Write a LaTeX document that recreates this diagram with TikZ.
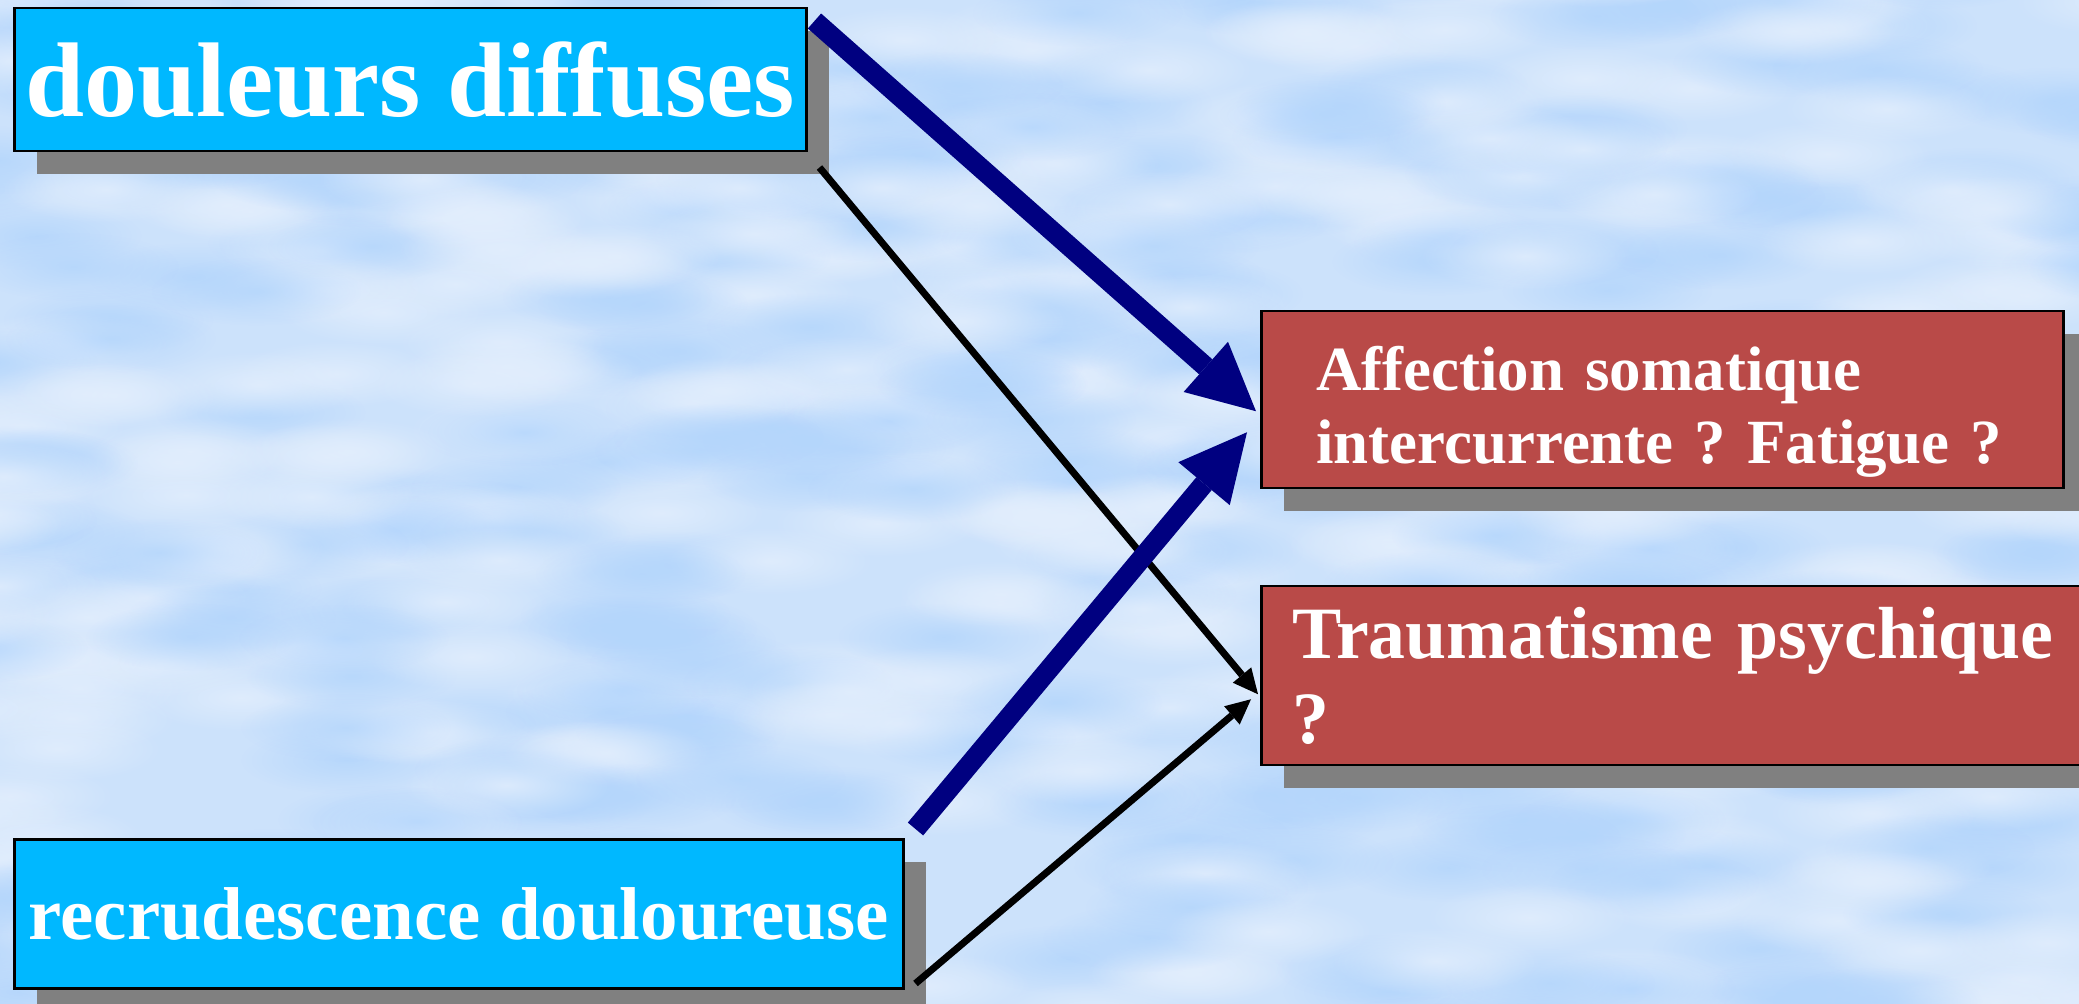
\documentclass[tikz,border=0pt]{standalone}
\usepackage{fontspec}
\setmainfont{Liberation Serif}
\usetikzlibrary{positioning, calc, arrows.meta, shadows, fadings}
\frenchspacing

\definecolor{bgblue}{RGB}{204,226,251}
\definecolor{cloudlight}{RGB}{226,238,253}
\definecolor{clouddark}{RGB}{180,214,252}
\definecolor{boxcyan}{RGB}{0,184,255}
\definecolor{boxred}{RGB}{185,74,72}
\definecolor{shadowgray}{RGB}{128,128,128}
\definecolor{arrownavy}{RGB}{0,0,128}

\tikzfading[name=soft blob, inner color=transparent!0, outer color=transparent!100]

\tikzset{
	basebox/.style={draw=black, line width=0.25mm, inner sep=0pt, anchor=north west, text=white,
		drop shadow={shadow xshift=2.3mm, shadow yshift=-2.3mm, fill=shadowgray, opacity=1}},
	cyanbox/.style={basebox, fill=boxcyan},
	redbox/.style={basebox, fill=boxred, align=left},
	fatarrow/.style={draw=arrownavy, line width=2mm, -{Triangle[length=6.7mm, width=6.7mm, line width=0pt]}},
	thinarrow/.style={draw=black, line width=0.7mm, -{Triangle[length=2.5mm, width=2.4mm, line width=0pt]}},
	cloud blob/.style={opacity=0.85, path fading=soft blob}
}

\begin{document}
\begin{tikzpicture}[x=0.1mm, y=-0.1mm]
			\useasboundingbox (0,0) rectangle (2079,1004);
			\clip (0,0) rectangle (2079,1004);
			\fill[bgblue] (0,0) rectangle (2079,1004);

			% cloudy paper
			\pgfmathsetseed{11}
			\foreach \i in {1,...,320} {
				\pgfmathsetmacro{\cx}{rnd*2200-60}
				\pgfmathsetmacro{\cy}{rnd*1100-50}
				\fill[cloud blob, clouddark] (\cx,\cy) ellipse (105 and 34);
				\pgfmathsetmacro{\cx}{rnd*2200-60}
				\pgfmathsetmacro{\cy}{rnd*1100-50}
				\fill[cloud blob, cloudlight] (\cx,\cy) ellipse (105 and 34);
			}

			\node (dd) [cyanbox, minimum width=79.2mm, minimum height=14.3mm,
				font=\fontsize{30.2pt}{36pt}\selectfont\bfseries] at (13,7) {douleurs diffuses};
			\node (rec) [cyanbox, minimum width=88.9mm, minimum height=14.9mm,
				font=\fontsize{21.3pt}{25pt}\selectfont\bfseries] at (13,838) {recrudescence douloureuse};

			\node (aff) [redbox, minimum width=80.2mm, minimum height=17.7mm, inner xsep=5.5mm, text width=69.2mm,
				text height=4.35mm, text depth=6.25mm,
				font=\fontsize{17.9pt}{20.8pt}\selectfont\bfseries] at (1260,310)
				{Affection somatique\\intercurrente ? Fatigue ?};
			\node (trm) [redbox, minimum width=85.2mm, minimum height=17.9mm, inner xsep=3.1mm, text width=79mm,
				font=\fontsize{21pt}{24.2pt}\selectfont\bfseries] at (1260,585)
				{Traumatisme psychique\\?};

			\draw[fatarrow] ($(dd.north east)+(7,14)$) -- ($(aff.west)+(-4,11.5)$);
			\draw[thinarrow] ($(dd.south east)+(12,15)$) -- ($(trm.west)+(-2,18.5)$);
			\draw[fatarrow] ($(rec.north east)+(11,-9)$) -- ($(aff.west)+(-13,32.5)$);
			\draw[thinarrow] ($(rec.south east)+(11,-6)$) -- ($(trm.west)+(-9,23.5)$);
		\end{tikzpicture}
\end{document}
